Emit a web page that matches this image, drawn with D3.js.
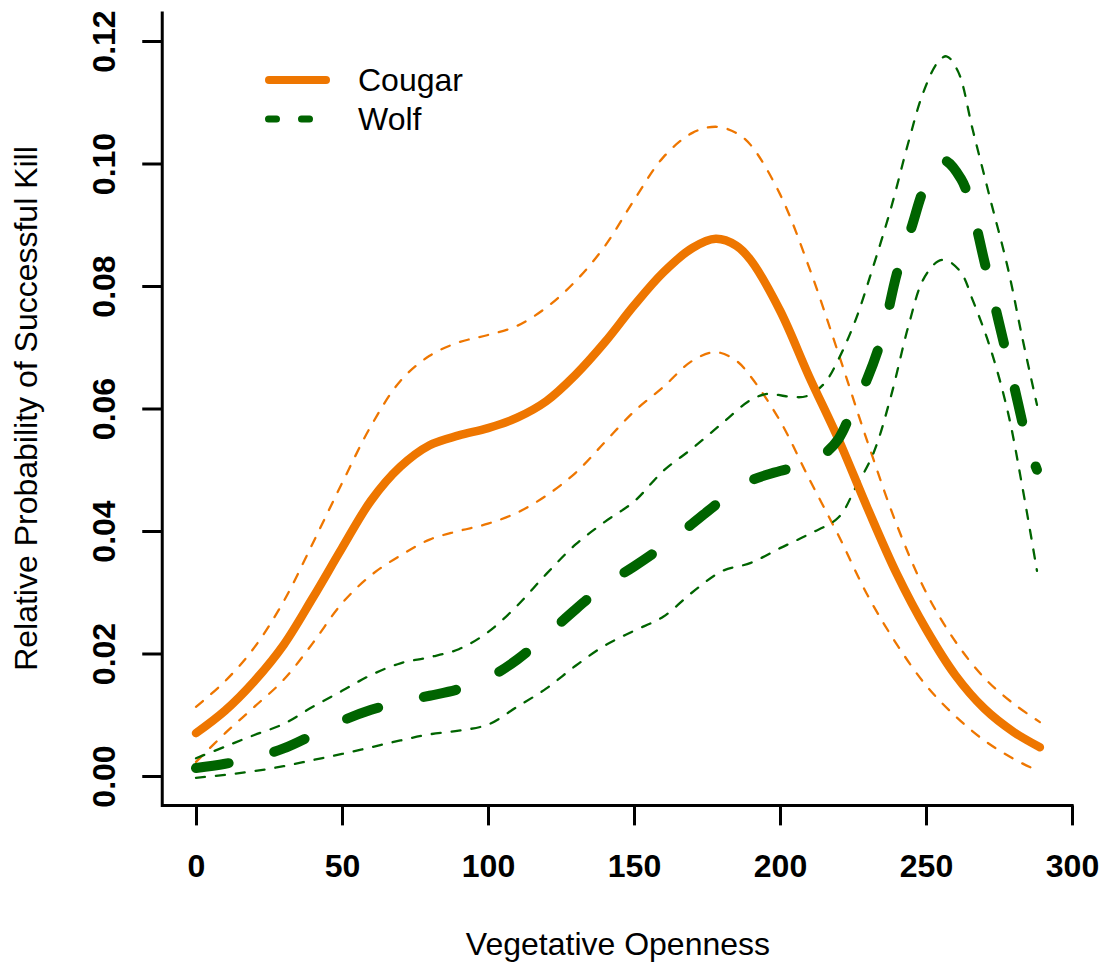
<!DOCTYPE html>
<html>
<head>
<meta charset="utf-8">
<title>Relative Probability of Successful Kill</title>
<script src="https://d3js.org/d3.v7.min.js"></script>
<style>
  body { margin: 0; background: #fff; }
  text { font-family: "Liberation Sans", Arial, sans-serif; }
</style>
</head>
<body>
<svg width="1106" height="964"></svg>
<script>
// values: [vegetative openness, probability]
const cougar = [[0,0.0070],[10,0.0107],[20,0.0155],[30,0.0214],[40,0.0291],[50,0.0372],[60,0.0450],[70,0.0505],[80,0.0540],[90,0.0556],[100,0.0568],[110,0.0585],[120,0.0612],[130,0.0655],[140,0.0708],[150,0.0768],[160,0.0822],[170,0.0862],[178,0.0877],[185,0.0866],[190,0.0842],[200,0.0760],[210,0.0652],[220,0.0550],[230,0.0437],[240,0.0330],[250,0.0240],[260,0.0165],[270,0.0110],[280,0.0072],[289,0.0047]];
const cougarUpper = [[0,0.0113],[10,0.0155],[20,0.0210],[30,0.0285],[40,0.0380],[50,0.0478],[60,0.0572],[70,0.0645],[80,0.0686],[90,0.0708],[100,0.0720],[110,0.0735],[120,0.0765],[130,0.0808],[140,0.0865],[150,0.0940],[160,0.1010],[170,0.1050],[178,0.1060],[185,0.1050],[190,0.1030],[200,0.0950],[210,0.0830],[220,0.0690],[230,0.0545],[240,0.0410],[250,0.0300],[260,0.0220],[270,0.0160],[280,0.0118],[289,0.0088]];
const cougarLower = [[0,0.0023],[10,0.0070],[20,0.0113],[30,0.0157],[40,0.0217],[50,0.0282],[60,0.0328],[70,0.0360],[80,0.0386],[90,0.0400],[100,0.0412],[110,0.0430],[120,0.0458],[130,0.0495],[140,0.0545],[150,0.0595],[160,0.0635],[170,0.0678],[178,0.0692],[185,0.0678],[190,0.0652],[200,0.0580],[210,0.0485],[220,0.0393],[230,0.0295],[240,0.0215],[250,0.0148],[260,0.0098],[270,0.0058],[280,0.0028],[289,0.0007]];
const wolf = [[0,0.0013],[10,0.0020],[20,0.0030],[30,0.0045],[40,0.0067],[50,0.0090],[60,0.0108],[70,0.0121],[80,0.0131],[90,0.0142],[100,0.0160],[110,0.0190],[120,0.0230],[130,0.0272],[140,0.0312],[150,0.0342],[160,0.0375],[170,0.0412],[180,0.0450],[190,0.0482],[200,0.0498],[210,0.0510],[215,0.0525],[220,0.0550],[225,0.0600],[230,0.0650],[235,0.0718],[240,0.0820],[245,0.0895],[250,0.0966],[256,0.1005],[262,0.0975],[266,0.0920],[270,0.0840],[275,0.0740],[280,0.0640],[285,0.0540],[288,0.0500]];
const wolfUpper = [[0,0.0029],[10,0.0048],[20,0.0067],[30,0.0085],[40,0.0113],[50,0.0139],[60,0.0165],[70,0.0184],[80,0.0194],[90,0.0207],[100,0.0235],[110,0.0278],[120,0.0330],[130,0.0378],[140,0.0415],[150,0.0448],[160,0.0498],[170,0.0535],[180,0.0575],[190,0.0614],[196,0.0624],[202,0.0620],[209,0.0620],[215,0.0640],[220,0.0680],[226,0.0746],[232,0.0833],[238,0.0927],[244,0.1035],[249,0.1115],[254,0.1165],[257,0.1175],[261,0.1150],[266,0.1055],[272,0.0942],[278,0.0830],[283,0.0715],[288,0.0606]];
const wolfLower = [[0,-0.0003],[10,0.0002],[20,0.0008],[30,0.0016],[40,0.0026],[50,0.0036],[60,0.0047],[70,0.0058],[80,0.0068],[90,0.0074],[100,0.0084],[110,0.0113],[120,0.0143],[130,0.0180],[140,0.0213],[150,0.0237],[160,0.0260],[170,0.0300],[180,0.0334],[190,0.0348],[200,0.0372],[210,0.0395],[220,0.0422],[226,0.0472],[232,0.0527],[238,0.0620],[244,0.0735],[249,0.0810],[254,0.0840],[257,0.0842],[262,0.0822],[266,0.0777],[272,0.0699],[278,0.0595],[283,0.0472],[288,0.0335]];

const xTicks = [0, 50, 100, 150, 200, 250, 300];
const yTicks = [0, 0.02, 0.04, 0.06, 0.08, 0.10, 0.12];
const legendLabels = ["Cougar", "Wolf"];

const orange = "#EE7600", green = "#006400";

const svg = d3.select("svg");

const x = d3.scaleLinear().domain([0, 300]).range([196, 1072]);
const y = d3.scaleLinear().domain([0, 0.12]).range([776, 41]);

// plot region (R pads the limits by 4%)
const plotLeft = x(-11.56), plotRight = x(300.56);
const plotTop = y(0.1248), plotBottom = y(-0.0048);

// L-shaped box
svg.append("path")
   .attr("d", `M${plotLeft},${plotTop}V${plotBottom}H${plotRight}`)
   .attr("fill", "none").attr("stroke", "#000").attr("stroke-width", 3);

// x axis
const gx = svg.append("g")
   .attr("transform", `translate(0,${plotBottom})`)
   .call(d3.axisBottom(x).tickValues(xTicks).tickSize(20).tickFormat(d3.format("d")));
gx.select(".domain").remove();
gx.selectAll("line").attr("stroke-width", 3);
gx.selectAll("text")
  .attr("y", 72).attr("dy", 0)
  .style("font-size", "32px").style("font-weight", "bold").attr("fill", "#000");

// y axis, labels rotated like R's default
const gy = svg.append("g")
   .attr("transform", `translate(${plotLeft},0)`)
   .call(d3.axisLeft(y).tickValues(yTicks).tickSize(20).tickFormat(d3.format(".2f")));
gy.select(".domain").remove();
gy.selectAll("line").attr("stroke-width", 3);
gy.selectAll("text")
  .attr("transform", "rotate(-90)")
  .attr("x", 0).attr("y", -47).attr("dy", 0)
  .attr("text-anchor", "middle")
  .style("font-size", "32px").style("font-weight", "bold").attr("fill", "#000");

// axis titles
svg.append("text")
   .attr("x", (plotLeft + plotRight) / 2).attr("y", 955)
   .attr("text-anchor", "middle")
   .style("font-size", "32px")
   .text("Vegetative Openness");

svg.append("text")
   .attr("transform", `translate(37,${(plotTop + plotBottom) / 2}) rotate(-90)`)
   .attr("text-anchor", "middle")
   .style("font-size", "32px")
   .text("Relative Probability of Successful Kill");

const line = d3.line()
   .x(d => x(d[0]))
   .y(d => y(d[1]))
   .curve(d3.curveCatmullRom.alpha(0.5));

function draw(data, color, width, dash) {
    svg.append("path")
       .datum(data)
       .attr("d", line)
       .attr("fill", "none")
       .attr("stroke", color)
       .attr("stroke-width", width)
       .attr("stroke-linecap", "round")
       .attr("stroke-linejoin", "round")
       .attr("stroke-dasharray", dash);
}

// confidence bands
draw(cougarUpper, orange, 2.3, "9,11");
draw(cougarLower, orange, 2.3, "9,11");
draw(wolfUpper, green, 2.3, "9,11");
draw(wolfLower, green, 2.3, "9,11");

// fitted curves
draw(cougar, orange, 8.5, null);
draw(wolf, green, 10, "33,47");

// legend
const legend = svg.append("g");
legend.append("line")
   .attr("x1", 269).attr("x2", 326).attr("y1", 80).attr("y2", 80)
   .attr("stroke", orange).attr("stroke-width", 8).attr("stroke-linecap", "round");
legend.append("line")
   .attr("x1", 268.5).attr("x2", 326).attr("y1", 119).attr("y2", 119)
   .attr("stroke", green).attr("stroke-width", 7).attr("stroke-linecap", "round")
   .attr("stroke-dasharray", "8,25");
legend.selectAll("text")
   .data(legendLabels)
   .enter().append("text")
   .attr("x", 358)
   .attr("y", (d, i) => 91 + i * 39)
   .style("font-size", "32px")
   .text(d => d);
</script>
</body>
</html>
